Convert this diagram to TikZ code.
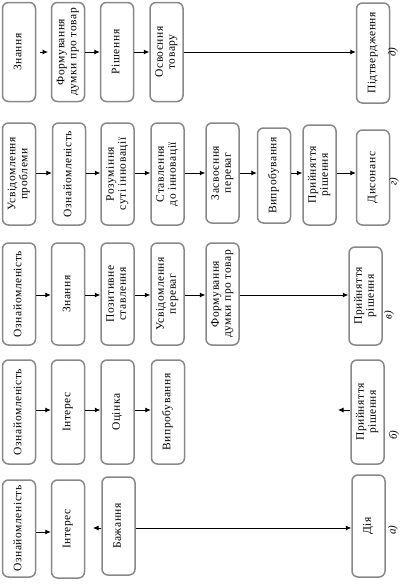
\documentclass[tikz,border=0pt]{standalone}
\usepackage{fontspec}
\setmainfont{Liberation Serif}
\newfontfamily\boxfont[LetterSpace=5]{Liberation Serif}
\usetikzlibrary{arrows.meta}
\definecolor{boxgray}{HTML}{888888}
\newcommand{\vt}[1]{\rotatebox{90}{\begin{tabular}{@{}c@{}}#1\end{tabular}}}
\tikzset{
  box/.style={draw=boxgray, line width=1.5pt, rounded corners=6pt, inner sep=0pt,
    minimum width=33pt, minimum height=99pt, text=black,
    font=\boxfont\fontsize{11.5}{12}\selectfont},
  arr/.style={draw=black, line width=0.8pt, -{Latex[length=5.5pt,width=5pt]}},
  lab/.style={rotate=90, font=\itshape\fontsize{11}{12}\selectfont, inner sep=0pt}
}
\begin{document}
\begin{tikzpicture}[x=1pt,y=-1pt]
\useasboundingbox (0,0) rectangle (405,584);
% ---------- row д)
\node[box] (d1) at (19,52) {\vt{Знання}};
\node[box] (d2) at (68,52) {\vt{Формування\\думки про товар}};
\node[box] (d3) at (117,52) {\vt{Рішення}};
\node[box] (d4) at (166.5,52) {\vt{Освоєння\\товару}};
\node[box, minimum height=100pt] (d5) at (373,53) {\vt{Підтвердження}};
\node[lab] (ld) at (393,52) {д)};
\coordinate (ds1) at (40,52);
\coordinate (ds2) at (48,52);
\draw[arr] (ds1) -- (ds2);
\draw[arr] (d2.east) -- (d2.east -| d3.west);
\draw[arr] (d3.east) -- (d3.east -| d4.west);
\draw[arr] (d4.east) -- (d4.east -| d5.west);
% ---------- row г)
\node[box, minimum height=102pt] (g1) at (19,174) {\vt{Усвідомлення\\проблеми}};
\node[box, minimum height=102pt] (g2) at (69,174) {\vt{Ознайомленість}};
\node[box, minimum height=102pt] (g3) at (117.5,174) {\vt{Розуміння\\суті інновації}};
\node[box, minimum height=102pt] (g4) at (167.5,174) {\vt{Ставлення\\до інновації}};
\node[box, minimum height=100pt] (g5) at (222.5,173) {\vt{Засвоєння\\переваг}};
\node[box, minimum height=95pt] (g6) at (274,175.5) {\vt{Випробування}};
\node[box, minimum height=100pt] (g7) at (319.5,175) {\vt{Прийняття\\рішення}};
\node[box, minimum height=95pt] (g8) at (373,177.5) {\vt{Дисонанс}};
\node[lab] (lg) at (394,182) {г)};
\coordinate (gy) at (0,173);
\draw[arr] (g1.east |- gy) -- (g2.west |- gy);
\draw[arr] (g2.east |- gy) -- (g3.west |- gy);
\draw[arr] (g3.east |- gy) -- (g4.west |- gy);
\draw[arr] (g4.east |- gy) -- (g5.west |- gy);
\draw[arr] (g5.east |- gy) -- (g6.west |- gy);
\draw[arr] (g6.east |- gy) -- (g7.west |- gy);
\draw[arr] (g7.east |- gy) -- (g8.west |- gy);
% ---------- row в)
\node[box, minimum height=102pt] (v1) at (19,294) {\vt{Ознайомленість}};
\node[box, minimum height=102pt] (v2) at (68,294) {\vt{Знання}};
\node[box, minimum height=102pt] (v3) at (117.5,294) {\vt{Позитивне\\ставлення}};
\node[box, minimum height=102pt] (v4) at (167.5,294) {\vt{Усвідомлення\\переваг}};
\node[box, minimum height=102pt] (v5) at (222.5,294) {\vt{Формування\\думки про товар}};
\node[box, minimum height=98pt] (v6) at (365.5,296) {\vt{Прийняття\\рішення}};
\node[lab] (lv) at (389,315) {в)};
\coordinate (vy) at (0,295);
\draw[arr] (v1.east |- vy) -- (v2.west |- vy);
\draw[arr] (v2.east |- vy) -- (v3.west |- vy);
\draw[arr] (v3.east |- vy) -- (v4.west |- vy);
\draw[arr] (v4.east |- vy) -- (v5.west |- vy);
\draw[arr] (v5.east |- vy) -- (v6.west |- vy);
% ---------- row б)
\node[box, minimum height=104pt] (b1) at (19,412) {\vt{Ознайомленість}};
\node[box, minimum height=104pt] (b2) at (68,412) {\vt{Інтерес}};
\node[box, minimum height=104pt] (b3) at (117.5,412) {\vt{Оцінка}};
\node[box, minimum height=104pt] (b4) at (168,412) {\vt{Випробування}};
\node[box, minimum height=104pt] (b5) at (367.5,412) {\vt{Прийняття\\рішення}};
\node[lab] (lb) at (394,435) {б)};
\coordinate (by) at (0,410);
\coordinate (bs) at (338,410);
\draw[arr] (b1.east |- by) -- (b2.west |- by);
\draw[arr] (b2.east |- by) -- (b3.west |- by);
\draw[arr] (b3.east |- by) -- (b4.west |- by);
\draw[arr] (b5.west |- by) -- (bs);
% ---------- row а)
\node[box, minimum height=97pt] (a1) at (19,528.5) {\vt{Ознайомленість}};
\node[box, minimum height=98pt] (a2) at (68,529) {\vt{Інтерес}};
\node[box, minimum height=98pt] (a3) at (118.5,526) {\vt{Бажання}};
\node[box, minimum height=102pt] (a4) at (368.5,526) {\vt{Дія}};
\node[lab] (la) at (393,530) {а)};
\coordinate (ay1) at (0,532);
\coordinate (ay2) at (0,528);
\coordinate (as) at (93,528);
\draw[arr] (a1.east |- ay1) -- (a2.west |- ay1);
\draw[arr] (a3.west |- ay2) -- (as);
\draw[arr] (a3.east |- ay2) -- (a4.west |- ay2);
\end{tikzpicture}
\end{document}
